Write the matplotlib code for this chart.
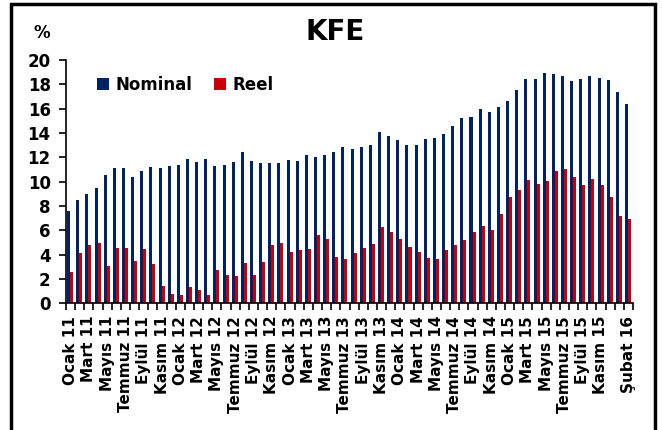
import numpy as np
import matplotlib
matplotlib.use("Agg")
import matplotlib.pyplot as plt
from matplotlib.patches import Rectangle

# monthly data, Ocak 2011 - Subat 2016 (%)
nominal = [7.6, 8.5, 9.0, 9.5, 10.55, 11.1, 11.1, 10.4, 10.9, 11.2,
           11.1, 11.3, 11.4, 11.85, 11.6, 11.85, 11.3, 11.4, 11.6, 12.45,
           11.7, 11.5, 11.5, 11.5, 11.8, 11.7, 12.15, 12.05, 12.15, 12.45,
           12.85, 12.65, 12.85, 13.0, 14.05, 13.75, 13.4, 13.0, 13.0, 13.5,
           13.6, 13.9, 14.6, 15.2, 15.3, 15.95, 15.75, 16.15, 16.65, 17.5,
           18.45, 18.45, 18.95, 18.85, 18.65, 18.25, 18.45, 18.65, 18.55, 18.35,
           17.4, 16.35]
reel = [2.55, 4.15, 4.75, 4.95, 3.1, 4.55, 4.55, 3.5, 4.45, 3.2,
        1.4, 0.8, 0.65, 1.3, 1.1, 0.65, 2.75, 2.35, 2.25, 3.3,
        2.35, 3.4, 4.75, 4.95, 4.25, 4.35, 4.45, 5.6, 5.3, 3.8,
        3.6, 4.1, 4.55, 4.85, 6.25, 5.9, 5.3, 4.65, 4.25, 3.7,
        3.6, 4.35, 4.75, 5.2, 5.9, 6.35, 6.05, 7.3, 8.75, 9.3,
        10.1, 9.8, 10.05, 10.85, 11.05, 10.35, 9.7, 10.2, 9.7, 8.75,
        7.15, 6.95]
month_names = ["Ocak", "Mart", "Mayıs", "Temmuz", "Eylül", "Kasım"]
years = ["11", "12", "13", "14", "15"]
tick_labels = [f"{m} {y}" for y in years for m in month_names] + ["Şubat 16"]
tick_pos = list(range(0, 60, 2)) + [61]

navy = "#002366"
red = "#C8000A"

plt.rcParams["font.family"] = ["DejaVu Sans"]
plt.rcParams["font.weight"] = "bold"

fig = plt.figure(figsize=(6.62, 4.30), dpi=100)
ax = fig.add_axes([0.0997, 0.2947, 0.8565, 0.5658])

x = np.arange(len(nominal))
w = 0.33
ax.bar(x - w / 2 - 0.05, nominal, width=w, color=navy, label="Nominal")
ax.bar(x + w / 2 - 0.05, reel, width=w, color=red, label="Reel")

ax.set_xlim(-0.5, len(nominal) - 0.5)
ax.set_ylim(0, 20)
ax.set_yticks(range(0, 21, 2))
ax.tick_params(axis="y", labelsize=12, length=5, width=1.2, pad=6)
ax.set_xticks(tick_pos)
ax.set_xticklabels(tick_labels, rotation=90, fontsize=11, fontweight="bold")
ax.tick_params(axis="x", length=0, pad=9)
ax.set_xticks(np.arange(-0.5, len(nominal), 1), minor=True)
ax.tick_params(axis="x", which="minor", length=5, width=1.2, direction="out")
for lab in ax.get_yticklabels():
    lab.set_fontweight("bold")

ax.spines["top"].set_visible(False)
ax.spines["right"].set_visible(False)
ax.spines["left"].set_linewidth(1.2)
ax.spines["bottom"].set_linewidth(1.2)

ax.legend(loc="upper left", bbox_to_anchor=(0.124, 0.858), bbox_transform=fig.transFigure,
          ncol=2, frameon=False, handlelength=0.7, handleheight=0.7,
          handletextpad=0.4, columnspacing=1.3, prop={"weight": "bold", "size": 12})

fig.text(0.506, 0.925, "KFE", ha="center", va="center", fontsize=20, fontweight="bold",
         family=["Liberation Sans Narrow", "DejaVu Sans"])
fig.text(0.063, 0.924, "%", ha="center", va="center", fontsize=12, fontweight="bold")

# outer frame
fig.patches.append(Rectangle((11 / 662, -0.1), 644 / 662, 1.1 - 4 / 430, transform=fig.transFigure,
                             fill=False, edgecolor="black", linewidth=2.5))

fig.savefig("out.png", dpi=100)
